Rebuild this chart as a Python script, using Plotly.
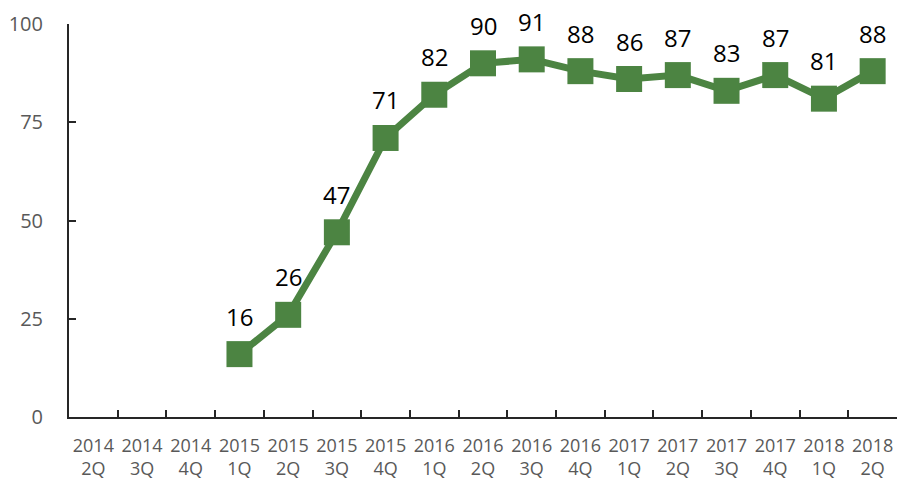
import plotly.graph_objects as go

quarters = ["2014<br>2Q", "2014<br>3Q", "2014<br>4Q", "2015<br>1Q", "2015<br>2Q", "2015<br>3Q",
            "2015<br>4Q", "2016<br>1Q", "2016<br>2Q", "2016<br>3Q", "2016<br>4Q", "2017<br>1Q",
            "2017<br>2Q", "2017<br>3Q", "2017<br>4Q", "2018<br>1Q", "2018<br>2Q"]
values = [None, None, None, 16, 26, 47, 71, 82, 90, 91, 88, 86, 87, 83, 87, 81, 88]
y_ticks = [0, 25, 50, 75, 100]

green = "#4C8442"

fig = go.Figure(go.Scatter(
    x=quarters, y=values, mode="lines+markers",
    line=dict(color=green, width=7),
    marker=dict(symbol="square", size=26, color=green),
    cliponaxis=False,
    hoverinfo="skip",
))

# value labels above each point
for q, v in zip(quarters, values):
    if v is None:
        continue
    fig.add_annotation(
        x=q, y=v, text=str(v), showarrow=False, yshift=38,
        font=dict(size=24, color="#000000", family="Open Sans"),
    )

fig.update_layout(
    width=900, height=482,
    margin=dict(l=69, r=3, t=24, b=65, autoexpand=False),
    paper_bgcolor="white", plot_bgcolor="white",
    showlegend=False,
    font=dict(family="Open Sans", color="#595959", size=18),
)
fig.update_xaxes(
    type="category", tickson="boundaries", ticks="inside", ticklen=7,
    tickcolor="#262626", tickwidth=2,
    showline=True, linecolor="#262626", linewidth=2,
    showgrid=False, automargin=False, tickangle=0,
    tickfont=dict(size=18, color="#595959", family="Open Sans"),
    range=[-0.5, len(quarters) - 0.5],
    ticklabelstandoff=11,
)
fig.update_yaxes(
    range=[0, 100], tickvals=y_ticks, ticks="inside", ticklen=7,
    tickcolor="#262626", tickwidth=2,
    showline=True, linecolor="#262626", linewidth=2,
    showgrid=False, zeroline=False, automargin=False,
    tickfont=dict(size=20, color="#595959", family="Open Sans"),
    ticklabelstandoff=20,
)

fig.write_html("out.html")
